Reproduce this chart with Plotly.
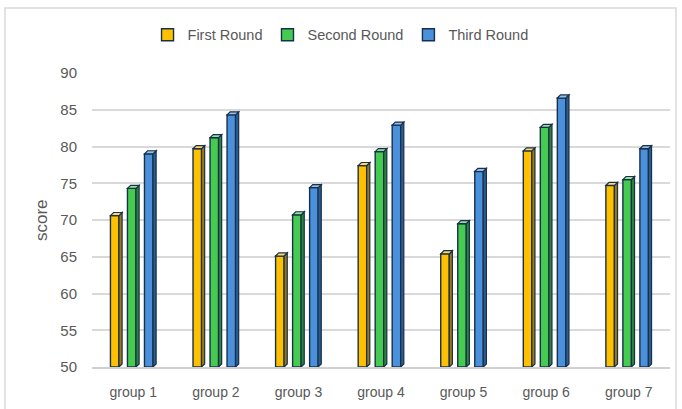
import plotly.graph_objects as go

# Scores per group for each round
groups = ["group 1", "group 2", "group 3", "group 4", "group 5", "group 6", "group 7"]
first_round = [70.6, 79.7, 65.1, 77.4, 65.4, 79.4, 74.7]
second_round = [74.3, 81.2, 70.7, 79.3, 69.5, 82.6, 75.5]
third_round = [79.0, 84.3, 74.4, 82.9, 76.6, 86.6, 79.7]

series = [
    ("First Round", first_round, "#FFC000", "#9C7A10", "#FFD966"),
    ("Second Round", second_round, "#45CC50", "#2A8536", "#8FE39A"),
    ("Third Round", third_round, "#4A90DA", "#2C5C92", "#93BDEB"),
]

Y_MIN, Y_MAX = 50, 90
OUTLINE = "#18304A"
TEXT = "#595959"
FONT = "Liberation Sans"

BAR_W = 0.103      # front face width (category units)
STEP = 0.206       # distance between bars inside a group
DEPTH_X = 0.038    # pseudo-3D depth, horizontal (category units)
DEPTH_Y = 0.42     # pseudo-3D depth, vertical (score units)

fig = go.Figure()
shapes = []

for k, (name, values, face, side, top) in enumerate(series):
    xs = [i + (k - 1) * STEP - DEPTH_X / 2 for i in range(len(groups))]
    fig.add_trace(go.Bar(
        x=xs, y=[v - Y_MIN for v in values], base=Y_MIN, width=BAR_W,
        name=name, marker=dict(color=face, line=dict(color=OUTLINE, width=1.4)),
        hovertext=[f"{g}: {v}" for g, v in zip(groups, values)],
    ))
    for x, v in zip(xs, values):
        left, right = x - BAR_W / 2, x + BAR_W / 2
        # right-hand side face
        shapes.append(dict(
            type="path", xref="x", yref="y", layer="above",
            path=(f"M {right},{Y_MIN} L {right + DEPTH_X},{Y_MIN + DEPTH_Y} "
                  f"L {right + DEPTH_X},{v + DEPTH_Y} L {right},{v} Z"),
            fillcolor=side, line=dict(color=OUTLINE, width=1.2),
        ))
        # top face
        shapes.append(dict(
            type="path", xref="x", yref="y", layer="above",
            path=(f"M {left},{v} L {left + DEPTH_X},{v + DEPTH_Y} "
                  f"L {right + DEPTH_X},{v + DEPTH_Y} L {right},{v} Z"),
            fillcolor=top, line=dict(color=OUTLINE, width=1.2),
        ))

# outer chart frame
shapes.append(dict(
    type="rect", xref="paper", yref="paper", layer="below",
    x0=(5 - 92) / 578, x1=(676 - 92) / 578,
    y0=-0.2, y1=(367 - 8) / 294,
    line=dict(color="#D9D9D9", width=1.5), fillcolor="rgba(0,0,0,0)",
))

fig.update_layout(
    width=682, height=409,
    margin=dict(l=92, r=12, t=73, b=42, autoexpand=False),
    paper_bgcolor="white", plot_bgcolor="white",
    barmode="overlay",
    font=dict(family=FONT, color=TEXT, size=14),
    shapes=shapes,
    showlegend=True,
    legend=dict(
        orientation="h", x=0.43, y=1.13, xanchor="center", yanchor="middle",
        font=dict(size=14.5, color=TEXT), itemwidth=30,
    ),
    xaxis=dict(
        range=[-0.5, len(groups) - 0.5],
        tickmode="array", tickvals=list(range(len(groups))), ticktext=groups,
        showgrid=False, zeroline=False,
        showline=True, linecolor="#D0D0D0", linewidth=1.5,
        tickfont=dict(size=14, color=TEXT), ticks="", ticklabelstandoff=11,
    ),
    yaxis=dict(
        range=[Y_MIN, Y_MAX], dtick=5, tick0=Y_MIN,
        showgrid=True, gridcolor="#D9D9D9", gridwidth=1.5,
        zeroline=False, showline=False,
        tickfont=dict(size=15, color=TEXT), ticks="", ticklabelstandoff=14,
    ),
    annotations=[dict(
        text="score", xref="paper", yref="paper", x=(41 - 92) / 578, y=0.5,
        xanchor="center", yanchor="middle", textangle=-90, showarrow=False,
        font=dict(size=17, color=TEXT),
    )],
)

fig.write_html("out.html")
